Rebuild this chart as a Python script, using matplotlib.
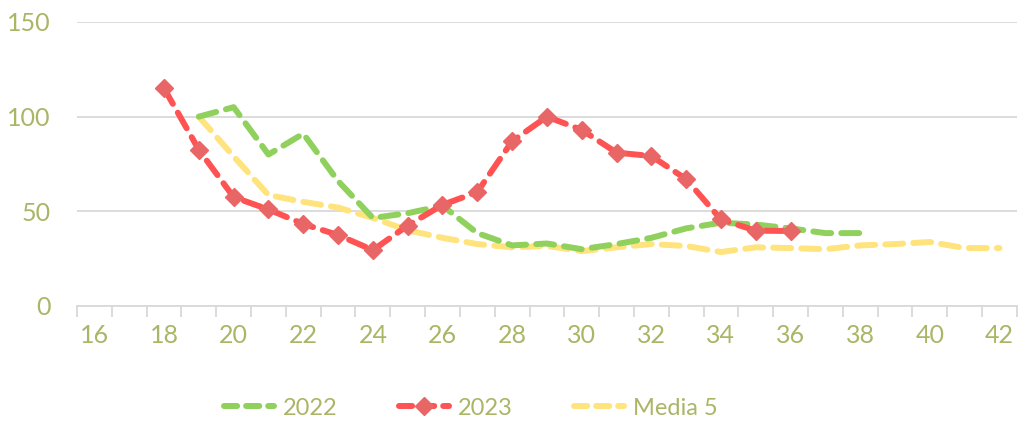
import matplotlib.pyplot as plt
import numpy as np

plt.rcParams['font.family'] = ['Lato', 'DejaVu Sans']

nan = np.nan
weeks = list(range(16, 43))
y2022 = [nan, nan, nan, 100, 105, 80, 91, 66, 46.5, 49, 53, 38.5, 32, 33, 30,
         32.7, 36, 41, 44, 43, 41, 38.5, 38.5, nan, nan, nan, nan]
y2023 = [nan, nan, 115, 82.5, 57.5, 51, 43.3, 37.5, 29.5, 42.5, 53.4, 60.2, 87,
         100, 93, 81, 79.2, 67, 45.7, 39.8, 39.6, nan, nan, nan, nan, nan, nan]
media5 = [nan, nan, nan, 100, 79, 58.6, 55, 52, 46.5, 40, 36, 32.7, 31, 31.7,
          29, 31, 32.7, 31.7, 28.5, 31, 30.6, 30, 32, 32.7, 33.8, 30.6, 30.6]

text_col = '#AAB566'
grid_col = '#D9D9D9'

fig = plt.figure(figsize=(10.24, 4.26), dpi=100)
ax = fig.add_axes([0.0752, 0.2817, 0.9178, 0.6667])

x = np.arange(len(weeks))
dash = (3, 1.7)
ax.plot(x, y2022, color='#8FD15C', lw=4.3, dashes=dash,
        dash_capstyle='round', label='2022', zorder=3)
ax.plot(x, y2023, color='#FF5353', lw=4.3, dashes=dash,
        dash_capstyle='round', marker='D', markersize=9,
        markerfacecolor='#E96666', markeredgecolor='#E96666',
        label='2023', zorder=4)
ax.plot(x, media5, color='#FFE37D', lw=4.3, dashes=dash,
        dash_capstyle='round', label='Media 5', zorder=2)

ax.set_xlim(-0.5, len(weeks) - 0.5)
ax.set_ylim(0, 150)
ax.set_yticks([0, 50, 100, 150])
ax.set_xticks(x[::2])
ax.set_xticklabels([str(w) for w in weeks[::2]])
ax.set_xticks(np.arange(-0.5, len(weeks)), minor=True)
ax.tick_params(axis='x', which='major', length=0, pad=13,
               labelsize=18, labelcolor=text_col)
ax.tick_params(axis='x', which='minor', length=8, width=1.3, color=grid_col)
ax.tick_params(axis='y', length=0, pad=19, labelsize=18, labelcolor=text_col)

ax.grid(axis='y', color=grid_col, lw=1.3)
for s in ['top', 'right', 'left']:
    ax.spines[s].set_visible(False)
ax.spines['bottom'].set_color(grid_col)
ax.spines['bottom'].set_linewidth(1.3)

leg = fig.legend(loc='center', bbox_to_anchor=(0.46, 0.042), ncol=3,
                 frameon=False, fontsize=17, handlelength=2.1,
                 columnspacing=2.6, handletextpad=0.4)
for t in leg.get_texts():
    t.set_color(text_col)
for h in leg.get_lines():
    h.set_dashes((2.2, 1.5))

fig.savefig('out.png', dpi=100)
